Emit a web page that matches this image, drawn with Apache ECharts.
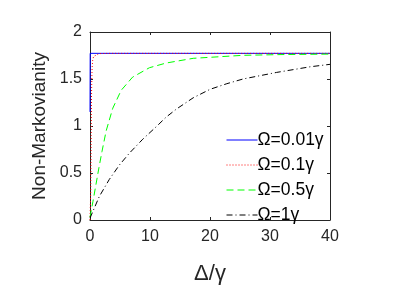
<!DOCTYPE html>
<html>
<head>
<meta charset="utf-8">
<script src="https://cdn.jsdelivr.net/npm/echarts@6/dist/echarts.min.js"></script>
<style>html,body{margin:0;padding:0;background:#fff;}#c{width:415px;height:301px;}</style>
</head>
<body>
<div id="c"></div>
<script>
// Data
const xTicks = [0, 10, 20, 30, 40];
const yTicks = [0, 0.5, 1, 1.5, 2];
const seriesNames = ['Ω=0.01γ', 'Ω=0.1γ', 'Ω=0.5γ', 'Ω=1γ'];

const blueX = [0, 0.03, 40];
const blueY = [1.15, 1.773, 1.773];

const redX = [0, 0.12, 0.2, 0.25, 0.3, 0.35, 0.45, 0.6, 0.9, 1.5, 3, 40];
const redY = [0, 0.3, 0.9, 1.3, 1.5, 1.62, 1.7, 1.74, 1.76, 1.77, 1.773, 1.773];

const greenX = [0, 0.5, 1, 1.5, 2, 2.7, 3.8, 5.2, 7.1, 9.9, 12.7, 17.2, 25.5, 32, 40];
const greenY = [0.03, 0.2, 0.38, 0.56, 0.73, 0.95, 1.19, 1.38, 1.52, 1.62, 1.67, 1.72, 1.752, 1.76, 1.765];

const blackX = [0, 1.55, 3.2, 4.9, 6.55, 8.8, 11, 12.7, 14.4, 17.2, 20, 22.8, 25.5, 28.3, 31.1, 33.9, 36.7, 40];
const blackY = [0.02, 0.25, 0.43, 0.585, 0.71, 0.86, 0.99, 1.095, 1.18, 1.30, 1.39, 1.45, 1.5, 1.535, 1.57, 1.60, 1.63, 1.656];

function pairs(xs, ys) { return xs.map((x, i) => [x, ys[i]]); }

const axisColor = '#262626';
const font = 'Liberation Sans, Arial, Helvetica, sans-serif';

const chart = echarts.init(document.getElementById('c'), null, {renderer: 'canvas'});
const baseX = {
  type: 'value', min: xTicks[0], max: xTicks[xTicks.length - 1], interval: xTicks[1] - xTicks[0],
  axisLine: {show: true, onZero: false, lineStyle: {color: axisColor, width: 1}},
  axisTick: {show: true, inside: true, length: 3, lineStyle: {color: axisColor}},
  splitLine: {show: false}
};
const baseY = {
  type: 'value', min: yTicks[0], max: yTicks[yTicks.length - 1], interval: yTicks[1] - yTicks[0],
  axisLine: {show: true, onZero: false, lineStyle: {color: axisColor, width: 1}},
  axisTick: {show: true, inside: true, length: 3, lineStyle: {color: axisColor}},
  splitLine: {show: false}
};

function lineSeries(name, data, color, type) {
  return {
    name: name, type: 'line', data: data, symbol: 'none', showSymbol: false, smooth: false,
    lineStyle: {color: color, width: 1, type: type},
    itemStyle: {color: color},
    xAxisIndex: 0, yAxisIndex: 0, animation: false, z: 3
  };
}

chart.setOption({
  animation: false,
  backgroundColor: '#ffffff',
  grid: {left: 90, right: 85, top: 32, bottom: 81, containLabel: false},
  xAxis: [
    Object.assign({}, baseX, {
      position: 'bottom',
      axisLabel: {show: true, margin: 9, color: '#262626', fontSize: 16, fontFamily: font},
      name: 'Δ/γ', nameLocation: 'middle', nameGap: 43,
      nameTextStyle: {color: '#262626', fontSize: 22, fontFamily: font}
    }),
    Object.assign({}, baseX, {position: 'top', axisLabel: {show: false}})
  ],
  yAxis: [
    Object.assign({}, baseY, {
      position: 'left',
      axisLabel: {show: true, margin: 8, color: '#262626', fontSize: 16, fontFamily: font},
      name: 'Non-Markovianity', nameLocation: 'middle', nameGap: 36, nameRotate: 90,
      nameTextStyle: {color: '#262626', fontSize: 19, fontFamily: font}
    }),
    Object.assign({}, baseY, {position: 'right', axisLabel: {show: false}})
  ],
  legend: {
    show: true, orient: 'vertical', left: 221, top: 126,
    itemWidth: 31, itemHeight: 12, itemGap: 7,
    data: seriesNames,
    itemStyle: {opacity: 0},
    lineStyle: {width: 1},
    textStyle: {color: '#000', fontSize: 17.5, fontFamily: font, padding: [0, 0, 0, -5]}
  },
  series: [
    lineSeries(seriesNames[0], pairs(blueX, blueY), '#0000ff', 'solid'),
    lineSeries(seriesNames[1], pairs(redX, redY), '#ff0000', [1, 2]),
    lineSeries(seriesNames[2], pairs(greenX, greenY), '#00ff00', [7, 4]),
    lineSeries(seriesNames[3], pairs(blackX, blackY), '#000000', [6, 3, 1, 3])
  ]
});
</script>
</body>
</html>
